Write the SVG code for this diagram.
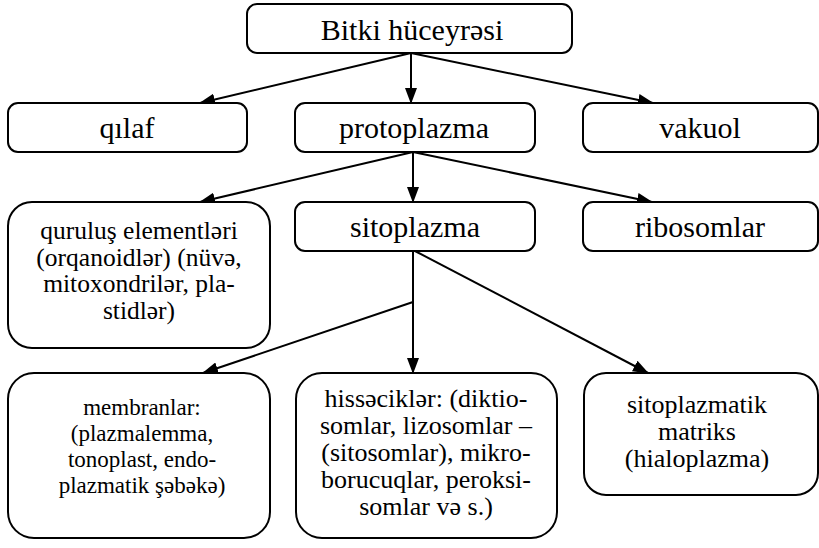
<svg xmlns="http://www.w3.org/2000/svg" width="819" height="548" viewBox="0 0 819 548">
<style>
.box{fill:#fff;stroke:#000;stroke-width:2}
.t{font-family:"Liberation Serif","Times New Roman",serif;fill:#000;text-anchor:middle}
.big{font-size:30px}
.q{font-size:25.5px}
.m{font-size:23px}
.h{font-size:26px}
.md{font-size:26px}
.c{stroke:#000;stroke-width:2;fill:none}
</style>
<defs>
<marker id="ah" markerUnits="userSpaceOnUse" markerWidth="16" markerHeight="12" refX="15" refY="6" orient="auto">
<path d="M0,0 L16,6 L0,12 Z" fill="#000"/>
</marker>
</defs>
<rect width="819" height="548" fill="#fff"/>
<g id="connectors">
<line class="c" x1="411" y1="53" x2="200" y2="103" marker-end="url(#ah)"/>
<line class="c" x1="411" y1="53" x2="411" y2="103" marker-end="url(#ah)"/>
<line class="c" x1="411" y1="53" x2="653" y2="103" marker-end="url(#ah)"/>
<line class="c" x1="413" y1="152" x2="200" y2="202" marker-end="url(#ah)"/>
<line class="c" x1="413" y1="152" x2="413" y2="202" marker-end="url(#ah)"/>
<line class="c" x1="413" y1="152" x2="652" y2="202" marker-end="url(#ah)"/>
<line class="c" x1="413" y1="251" x2="413" y2="373" marker-end="url(#ah)"/>
<line class="c" x1="413" y1="302" x2="203" y2="373" marker-end="url(#ah)"/>
<line class="c" x1="415" y1="251" x2="648" y2="373" marker-end="url(#ah)"/>
</g>
<g id="n-bitki"><rect class="box" x="247" y="4" width="325" height="49" rx="10"/><text class="t big" x="412" y="40">Bitki hüceyrəsi</text></g>
<g id="n-qilaf"><rect class="box" x="8" y="103" width="239" height="49" rx="10"/><text class="t big" x="127" y="138">qılaf</text></g>
<g id="n-protoplazma"><rect class="box" x="295" y="103" width="240" height="49" rx="10"/><text class="t big" x="414" y="138">protoplazma</text></g>
<g id="n-vakuol"><rect class="box" x="583" y="103" width="235" height="49" rx="10"/><text class="t big" x="700" y="138">vakuol</text></g>
<g id="n-qurulus"><rect class="box" x="8" y="202" width="262" height="146" rx="24"/>
<text class="t q" x="139"><tspan x="139" y="239">quruluş elementləri</tspan><tspan x="139" y="265.5">(orqanoidlər) (nüvə,</tspan><tspan x="139" y="292">mitoxondrilər, pla-</tspan><tspan x="139" y="318.5">stidlər)</tspan></text></g>
<g id="n-sitoplazma"><rect class="box" x="295" y="202" width="240" height="49" rx="10"/><text class="t big" x="415" y="237">sitoplazma</text></g>
<g id="n-ribosomlar"><rect class="box" x="583" y="202" width="235" height="49" rx="10"/><text class="t big" x="700" y="237">ribosomlar</text></g>
<g id="n-membranlar"><rect class="box" x="8" y="373" width="262" height="165" rx="26"/>
<text class="t m" x="142"><tspan x="142" y="415">membranlar:</tspan><tspan x="142" y="441">(plazmalemma,</tspan><tspan x="142" y="467">tonoplast, endo-</tspan><tspan x="142" y="493">plazmatik şəbəkə)</tspan></text></g>
<g id="n-hissecikler"><rect class="box" x="296" y="373" width="261" height="165" rx="26"/>
<text class="t h" x="426"><tspan x="426" y="407">hissəciklər: (diktio-</tspan><tspan x="426" y="434">somlar, lizosomlar –</tspan><tspan x="426" y="461">(sitosomlar), mikro-</tspan><tspan x="426" y="488">borucuqlar, peroksi-</tspan><tspan x="426" y="515">somlar və s.)</tspan></text></g>
<g id="n-matriks"><rect class="box" x="584" y="373" width="234" height="122" rx="22"/>
<text class="t md" x="697"><tspan x="697" y="413">sitoplazmatik</tspan><tspan x="697" y="440">matriks</tspan><tspan x="697" y="467">(hialoplazma)</tspan></text></g>
</svg>
